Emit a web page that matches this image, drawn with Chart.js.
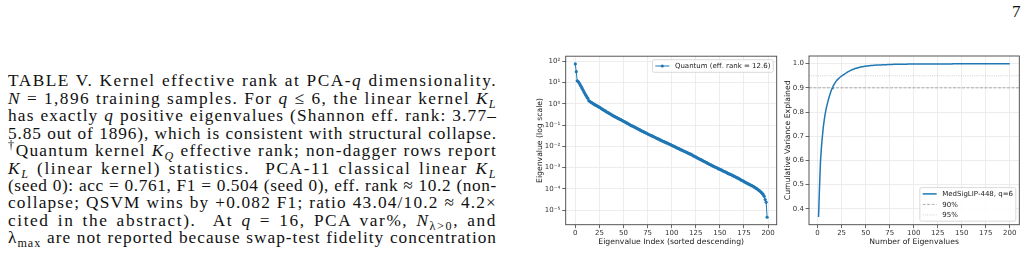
<!DOCTYPE html>
<html>
<head>
<meta charset="utf-8">
<script src="https://cdn.jsdelivr.net/npm/chart.js@4.4.1/dist/chart.umd.min.js"></script>
<style>
  html, body { margin: 0; padding: 0; background: #fff; }
  body { width: 1029px; height: 277px; position: relative; overflow: hidden; }
  #caption { position: absolute; left: 8px; top: 72.3px; width: 489px;
    font-family: "Liberation Serif", "Times New Roman", serif; font-size: 17.3px;
    line-height: 17.45px; color: #111; }
  #caption div { text-align: justify; text-align-last: justify; white-space: nowrap; }
  #caption sub, #caption sup { line-height: 0; font-size: 70%; }
  #pageno { position: absolute; left: 1012px; top: 2px; font-family: "Liberation Serif", serif; font-size: 17px; color: #111; }
  .box { position: absolute; top: 50px; }
</style>
</head>
<body>
<div id="pageno">7</div>
<div id="caption">
  <div><span>TABLE V. Kernel effective rank at PCA-<i>q</i> dimensionality.</span></div>
  <div><span><i>N</i> = 1,896 training samples. For <i>q</i> ≤ 6, the linear kernel <i>K<sub>L</sub></i></span></div>
  <div><span>has exactly <i>q</i> positive eigenvalues (Shannon eff. rank: 3.77–</span></div>
  <div><span>5.85 out of 1896), which is consistent with structural collapse.</span></div>
  <div><span><sup>†</sup>Quantum kernel <i>K<sub>Q</sub></i> effective rank; non-dagger rows report</span></div>
  <div><span><i>K<sub>L</sub></i> (linear kernel) statistics. &nbsp;PCA-11 classical linear <i>K<sub>L</sub></i></span></div>
  <div><span>(seed 0): acc = 0.761, F1 = 0.504 (seed 0), eff. rank ≈ 10.2 (non-</span></div>
  <div><span>collapse; QSVM wins by +0.082 F1; ratio 43.04/10.2 ≈ 4.2×</span></div>
  <div><span>cited in the abstract). &nbsp;At <i>q</i> = 16, PCA var%, <i>N</i><sub>λ&gt;0</sub>, and</span></div>
  <div><span>λ<sub>max</sub> are not reported because swap-test fidelity concentration</span></div>
</div>
<div class="box" style="left:528px"><canvas id="eig" width="252" height="200"></canvas></div>
<div class="box" style="left:780px"><canvas id="cum" width="249" height="200"></canvas></div>
<script>
// left panel: kernel eigenvalue spectrum, index 0..199
const eigenvalues = [
  74, 32, 12, 11, 9.5, 7.9, 6.6, 5.4, 4.4, 3.6,
  3.0, 2.5, 2.1, 1.8, 1.4, 1.3, 1.2, 1.12, 1.05, 0.98,
  0.91, 0.87, 0.81, 0.78, 0.72, 0.69, 0.65, 0.60, 0.56, 0.52,
  0.49, 0.46, 0.43, 0.40, 0.38, 0.355, 0.34, 0.32, 0.295, 0.28,
  0.26, 0.25, 0.235, 0.224, 0.21, 0.20, 0.19, 0.182, 0.17, 0.162,
  0.151, 0.145, 0.135, 0.129, 0.12, 0.115, 0.107, 0.100, 0.095, 0.091,
  0.087, 0.083, 0.078, 0.074, 0.069, 0.066, 0.063, 0.059, 0.056, 0.052,
  0.050, 0.048, 0.045, 0.043, 0.041, 0.039, 0.036, 0.035, 0.033, 0.032,
  0.030, 0.029, 0.0275, 0.026, 0.0245, 0.0234, 0.0224, 0.0214, 0.020, 0.019,
  0.0182, 0.0174, 0.0166, 0.0158, 0.0151, 0.0145, 0.0138, 0.0132, 0.0126, 0.012,
  0.0112, 0.0107, 0.0102, 0.0098, 0.0093, 0.0087, 0.0083, 0.0079, 0.0076, 0.0071,
  0.0068, 0.0065, 0.0062, 0.0059, 0.0056, 0.0054, 0.0051, 0.0048, 0.0046, 0.0044,
  0.0042, 0.0040, 0.0037, 0.0035, 0.0033, 0.0032, 0.0030, 0.0028, 0.0027, 0.0025,
  0.0024, 0.0023, 0.00214, 0.00204, 0.00195, 0.00182, 0.00174, 0.00162, 0.00155, 0.00145,
  0.00138, 0.00132, 0.00126, 0.00117, 0.00112, 0.00107, 0.00102, 0.00098, 0.00091, 0.00087,
  8.3e-4, 7.9e-4, 7.6e-4, 7.1e-4, 6.8e-4, 6.5e-4, 6.2e-4, 5.9e-4, 5.5e-4, 5.2e-4,
  5.0e-4, 4.8e-4, 4.6e-4, 4.3e-4, 4.1e-4, 3.9e-4, 3.7e-4, 3.5e-4, 3.3e-4, 3.2e-4,
  3.0e-4, 2.8e-4, 2.6e-4, 2.5e-4, 2.4e-4, 2.2e-4, 2.1e-4, 2.0e-4, 1.9e-4, 1.78e-4,
  1.7e-4, 1.62e-4, 1.51e-4, 1.45e-4, 1.38e-4, 1.29e-4, 1.2e-4, 1.12e-4, 1.05e-4, 9.8e-5,
  8.9e-5, 8.3e-5, 7.6e-5, 6.9e-5, 6.2e-5, 5.4e-5, 4.5e-5, 3.2e-5, 2.4e-5, 4.7e-6
];
const eigLabel = 'Quantum (eff. rank = 12.6)';
const eigXTicks = [0, 25, 50, 75, 100, 125, 150, 175, 200];
const eigYTicks = [1e-5, 1e-4, 1e-3, 1e-2, 1e-1, 1, 10, 100];
const eigYTickLabels = ['10⁻⁵', '10⁻⁴', '10⁻³', '10⁻²', '10⁻¹', '10⁰', '10¹', '10²'];

// right panel: cumulative variance explained, k = 1..200
const cumVariance = [
  0.366, 0.49, 0.595, 0.655, 0.70, 0.74, 0.77, 0.795, 0.815, 0.832,
  0.848, 0.862, 0.875, 0.887, 0.897, 0.906, 0.913, 0.92, 0.926, 0.931,
  0.935, 0.939, 0.943, 0.946, 0.949, 0.952, 0.955, 0.957, 0.96, 0.962,
  0.965, 0.967, 0.969, 0.971, 0.973, 0.975, 0.977, 0.978, 0.98, 0.981,
  0.982, 0.983, 0.984, 0.985, 0.986, 0.987, 0.987, 0.988, 0.989, 0.989,
  0.990, 0.990, 0.991, 0.991, 0.992, 0.992, 0.992, 0.993, 0.993, 0.993,
  0.994, 0.994, 0.994, 0.995, 0.995, 0.995, 0.995, 0.996, 0.996, 0.996,
  0.996, 0.996, 0.997, 0.997, 0.997, 0.997, 0.997, 0.997, 0.998, 0.998,
  0.998, 0.998, 0.998, 0.998, 0.998, 0.998, 0.998, 0.998, 0.998, 0.998,
  0.998, 0.998, 0.998, 0.999, 0.999, 0.999, 0.999, 0.999, 0.999, 0.999,
  0.999, 0.999, 0.999, 0.999, 0.999, 0.999, 0.999, 0.999, 0.999, 0.999,
  0.999, 0.999, 0.999, 0.999, 0.999, 0.999, 0.999, 0.999, 0.999, 0.999,
  0.999, 0.999, 0.999, 0.999, 0.999, 0.999, 0.999, 0.999, 0.999, 0.999,
  0.999, 0.999, 0.999, 0.999, 0.999, 0.999, 0.999, 0.999, 0.999, 0.999,
  1.0, 1.0, 1.0, 1.0, 1.0, 1.0, 1.0, 1.0, 1.0, 1.0,
  1.0, 1.0, 1.0, 1.0, 1.0, 1.0, 1.0, 1.0, 1.0, 1.0,
  1.0, 1.0, 1.0, 1.0, 1.0, 1.0, 1.0, 1.0, 1.0, 1.0,
  1.0, 1.0, 1.0, 1.0, 1.0, 1.0, 1.0, 1.0, 1.0, 1.0,
  1.0, 1.0, 1.0, 1.0, 1.0, 1.0, 1.0, 1.0, 1.0, 1.0,
  1.0, 1.0, 1.0, 1.0, 1.0, 1.0, 1.0, 1.0, 1.0, 1.0
];
const cumLabel = 'MedSigLIP-448, q=6';
const thresholds = [0.90, 0.95];
const thresholdLabels = ['90%', '95%'];
const cumXTicks = [0, 25, 50, 75, 100, 125, 150, 175, 200];
const cumYTicks = [0.4, 0.5, 0.6, 0.7, 0.8, 0.9, 1.0];

// caption lines: widen letters a bit so each line is filled like the TeX original
document.querySelectorAll('#caption div').forEach(line => {
  const span = line.firstElementChild;
  line.style.textAlignLast = 'left';
  const natural = span.getBoundingClientRect().width;
  const n = span.textContent.length;
  const ls = Math.max(-0.3, Math.min(1.6, (486 - natural) / n));
  line.style.letterSpacing = ls.toFixed(2) + 'px';
  line.style.textAlignLast = 'justify';
});

const blue = '#1f77b4';
const gridColor = '#e8e8e8';
const tickFont = { family: 'DejaVu Sans', size: 7 };
const titleFont = { family: 'DejaVu Sans', size: 7.7 };

// matplotlib-like box around the axes
const frame = {
  id: 'frame',
  afterDatasetsDraw(chart) {
    const { ctx, chartArea: a } = chart;
    ctx.save();
    ctx.strokeStyle = '#444';
    ctx.lineWidth = 0.9;
    ctx.strokeRect(a.left, a.top, a.right - a.left, a.bottom - a.top);
    ctx.restore();
  }
};

// legend drawn inside the axes, like plt.legend()
const legendBox = {
  id: 'legendBox',
  afterDraw(chart, args, opts) {
    const { ctx, chartArea: a } = chart;
    const fs = opts.fontSize;
    const items = chart.data.datasets.filter(d => d.label);
    ctx.save();
    ctx.font = fs + 'px "DejaVu Sans"';
    const pad = 0.4 * fs, handle = 2 * fs, gap = 0.8 * fs, space = 0.5 * fs, edge = opts.edge;
    const tw = Math.max(...items.map(d => ctx.measureText(d.label).width));
    const w = pad * 2 + handle + gap + tw;
    const h = pad * 2 + items.length * fs + (items.length - 1) * space;
    const x = a.right - edge - w;
    const y = opts.where === 'top' ? a.top + edge : a.bottom - edge - h;
    ctx.beginPath();
    ctx.roundRect(x, y, w, h, 1.5);
    ctx.fillStyle = 'rgba(255,255,255,0.85)';
    ctx.fill();
    ctx.strokeStyle = '#d0d0d0';
    ctx.lineWidth = 0.8;
    ctx.stroke();
    items.forEach((d, i) => {
      const cy = y + pad + i * (fs + space) + fs / 2;
      ctx.beginPath();
      ctx.setLineDash(d.borderDash || []);
      ctx.strokeStyle = d.borderColor;
      ctx.lineWidth = d.borderWidth;
      ctx.moveTo(x + pad, cy);
      ctx.lineTo(x + pad + handle, cy);
      ctx.stroke();
      ctx.setLineDash([]);
      if (d.pointRadius) {
        ctx.beginPath();
        ctx.fillStyle = d.borderColor;
        ctx.arc(x + pad + handle / 2, cy, d.pointRadius, 0, Math.PI * 2);
        ctx.fill();
      }
      ctx.fillStyle = '#222';
      ctx.textBaseline = 'middle';
      ctx.fillText(d.label, x + pad + handle + gap, cy + 0.5);
    });
    ctx.restore();
  }
};

function axisGrid() {
  return { color: gridColor, lineWidth: 0.8, tickColor: '#444', tickLength: 3.5, drawTicks: true };
}

new Chart(document.getElementById('eig'), {
  type: 'line',
  data: {
    datasets: [{
      label: eigLabel,
      data: eigenvalues.map((v, i) => ({ x: i, y: v })),
      borderColor: blue,
      backgroundColor: blue,
      borderWidth: 1,
      pointRadius: 1.6,
      pointBorderWidth: 0,
      pointHoverRadius: 0
    }]
  },
  options: {
    responsive: false,
    animation: false,
    devicePixelRatio: 1,
    layout: { padding: { top: 6, right: 3.3, left: 0, bottom: 0 } },
    plugins: {
      legend: { display: false },
      tooltip: { enabled: false },
      legendBox: { fontSize: 7, where: 'top', edge: 3.5 }
    },
    scales: {
      x: {
        type: 'linear', min: -9.95, max: 208.95,
        afterBuildTicks: s => { s.ticks = eigXTicks.map(v => ({ value: v })); },
        afterFit: s => { s.height = 25.3; },
        grid: axisGrid(),
        border: { display: false },
        ticks: { font: tickFont, color: '#333', padding: 1, maxRotation: 0, autoSkip: false },
        title: { display: true, text: 'Eigenvalue Index (sorted descending)', font: titleFont, color: '#222', padding: { top: 0, bottom: 3.7 } }
      },
      y: {
        type: 'logarithmic', min: 2.1e-6, max: 171,
        afterBuildTicks: s => { s.ticks = eigYTicks.map(v => ({ value: v })); },
        afterFit: s => { s.width = 37.7; },
        grid: axisGrid(),
        border: { display: false },
        ticks: {
          font: tickFont, color: '#333', padding: 2, autoSkip: false,
          callback: v => eigYTickLabels[eigYTicks.indexOf(v)]
        },
        title: { display: true, text: 'Eigenvalue (log scale)', font: titleFont, color: '#222', padding: { top: 7.4, bottom: 0 } }
      }
    }
  },
  plugins: [frame, legendBox]
});

const cumXMin = -8.95, cumXMax = 209.95;
const refStyles = [
  { color: 'rgba(120,120,120,0.75)', dash: [3, 1.5] },
  { color: 'rgba(150,150,150,0.55)', dash: [1, 1.2] }
];

new Chart(document.getElementById('cum'), {
  type: 'line',
  data: {
    datasets: [{
      label: cumLabel,
      data: cumVariance.map((v, i) => ({ x: i + 1, y: v })),
      borderColor: blue,
      borderWidth: 1.5,
      pointRadius: 0,
      tension: 0
    }].concat(thresholds.map((t, k) => ({
      label: thresholdLabels[k],
      data: [{ x: cumXMin, y: t }, { x: cumXMax, y: t }],
      borderColor: refStyles[k].color,
      borderDash: refStyles[k].dash,
      borderWidth: 0.8,
      pointRadius: 0
    })))
  },
  options: {
    responsive: false,
    animation: false,
    devicePixelRatio: 1,
    layout: { padding: { top: 6, right: 9.7, left: 0, bottom: 0 } },
    plugins: {
      legend: { display: false },
      tooltip: { enabled: false },
      legendBox: { fontSize: 7, where: 'bottom', edge: 3.5 }
    },
    scales: {
      x: {
        type: 'linear', min: cumXMin, max: cumXMax,
        afterBuildTicks: s => { s.ticks = cumXTicks.map(v => ({ value: v })); },
        afterFit: s => { s.height = 25.3; },
        grid: axisGrid(),
        border: { display: false },
        ticks: { font: tickFont, color: '#333', padding: 1, maxRotation: 0, autoSkip: false },
        title: { display: true, text: 'Number of Eigenvalues', font: titleFont, color: '#222', padding: { top: 0, bottom: 3.7 } }
      },
      y: {
        type: 'linear', min: 0.3343, max: 1.0317,
        afterBuildTicks: s => { s.ticks = cumYTicks.map(v => ({ value: v })); },
        afterFit: s => { s.width = 29; },
        grid: axisGrid(),
        border: { display: false },
        ticks: { font: tickFont, color: '#333', padding: 1.5, autoSkip: false, callback: v => v.toFixed(1) },
        title: { display: true, text: 'Cumulative Variance Explained', font: titleFont, color: '#222', padding: { top: 3.4, bottom: 0 } }
      }
    }
  },
  plugins: [frame, legendBox]
});
</script>
</body>
</html>
